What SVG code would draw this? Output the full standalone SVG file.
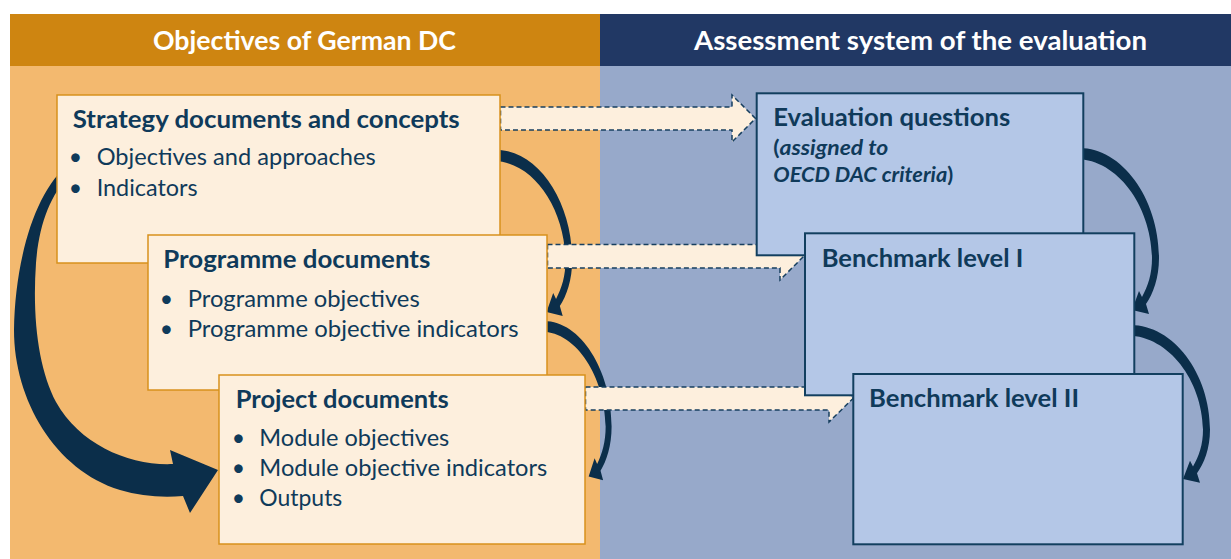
<svg xmlns="http://www.w3.org/2000/svg" width="1231" height="559" viewBox="0 0 1231 559">
<style>
.hdr{font-family:Lato,"Open Sans",sans-serif;font-weight:700;font-size:26px;fill:#ffffff}
.ttl{font-family:Lato,"Open Sans",sans-serif;font-weight:700;font-size:25px;fill:#0F3A5A}
.bul{font-family:Lato,"Open Sans",sans-serif;font-weight:400;font-size:23px;fill:#0F3A5A}
.sub{font-family:Lato,"Open Sans",sans-serif;font-weight:700;font-size:20px;fill:#0F3A5A}
.it{font-style:italic}
.obox{fill:#FDEFDD;stroke:#D8911C;stroke-width:1.5}
.bbox{fill:#B4C7E7;stroke:#123F5F;stroke-width:2}
.dash{fill:#FDEFDD;stroke:#173F5F;stroke-width:1.5;stroke-dasharray:5 3}
.curve{fill:#0B2E4A}
</style>
<defs>
<path id="carrow" d="M -6,0 C 38,-2 76,50 76,110 C 76,130 70,146 63,156 L 66,166 L 49,162 L 56,143 L 59,149 C 65,138 69,126 69,110 C 68,58 35,12 -6,11 Z"/>
</defs>

<g id="background">
<rect x="10" y="14" width="590" height="545" fill="#F3B96F"/>
<rect x="600" y="14" width="631" height="545" fill="#97A9CA"/>
<rect x="10" y="14" width="590" height="52" fill="#CE8511"/>
<rect x="600" y="14" width="631" height="52" fill="#213864"/>
<text class="hdr" x="153" y="50" textLength="303" lengthAdjust="spacingAndGlyphs">Objectives of German DC</text>
<text class="hdr" x="694" y="50" textLength="453" lengthAdjust="spacingAndGlyphs">Assessment system of the evaluation</text>
</g>

<g id="connectors">
<path class="curve" d="M 70,163 C 35,190 15,260 14,330 C 14,400 55,470 120,490 C 140,496 162,498 183,496 L 190,513 L 218,470 L 170,450 L 173,464 C 130,466 80,445 56,402 C 39,370 32,320 36,263 C 39,225 50,195 70,175 Z"/>
<use href="#carrow" class="curve" transform="translate(500,150) scale(0.95,1)"/>
<use href="#carrow" class="curve" transform="translate(547,321) scale(0.85,0.96)"/>
<use href="#carrow" class="curve" transform="translate(1083,148)"/>
<use href="#carrow" class="curve" transform="translate(1134,325) scale(1,0.95)"/>
<path class="dash" d="M 500.5,107 L 732,107 L 732,95 L 755.5,118.5 L 732,142 L 732,130 L 500.5,130 Z"/>
<path class="dash" d="M 547.5,244.5 L 780,244.5 L 780,232 L 804,256 L 780,280 L 780,268 L 547.5,268 Z"/>
<path class="dash" d="M 585.5,387 L 829,387 L 829,375 L 853,398.5 L 829,422 L 829,410 L 585.5,410 Z"/>
</g>

<g id="strategy">
<rect class="obox" x="57" y="95" width="443" height="168"/>
<text class="ttl" x="72.7" y="128.3" textLength="387" lengthAdjust="spacingAndGlyphs">Strategy documents and concepts</text>
<text class="bul" x="75.5" y="165" text-anchor="middle">•</text>
<text class="bul" x="96.7" y="165" textLength="279" lengthAdjust="spacingAndGlyphs">Objectives and approaches</text>
<text class="bul" x="75.5" y="196" text-anchor="middle">•</text>
<text class="bul" x="96.7" y="196" textLength="101" lengthAdjust="spacingAndGlyphs">Indicators</text>
</g>

<g id="programme">
<rect class="obox" x="148" y="235" width="399" height="155"/>
<text class="ttl" x="163.3" y="268.3" textLength="267" lengthAdjust="spacingAndGlyphs">Programme documents</text>
<text class="bul" x="166.5" y="306.7" text-anchor="middle">•</text>
<text class="bul" x="187.7" y="306.7" textLength="232" lengthAdjust="spacingAndGlyphs">Programme objectives</text>
<text class="bul" x="166.5" y="336.7" text-anchor="middle">•</text>
<text class="bul" x="187.7" y="336.7" textLength="331" lengthAdjust="spacingAndGlyphs">Programme objective indicators</text>
</g>

<g id="project">
<rect class="obox" x="219" y="375" width="366" height="169"/>
<text class="ttl" x="235.7" y="407.7" textLength="213" lengthAdjust="spacingAndGlyphs">Project documents</text>
<text class="bul" x="238.5" y="445.7" text-anchor="middle">•</text>
<text class="bul" x="259.3" y="445.7" textLength="190" lengthAdjust="spacingAndGlyphs">Module objectives</text>
<text class="bul" x="238.5" y="475.7" text-anchor="middle">•</text>
<text class="bul" x="259.3" y="475.7" textLength="288" lengthAdjust="spacingAndGlyphs">Module objective indicators</text>
<text class="bul" x="238.5" y="505.7" text-anchor="middle">•</text>
<text class="bul" x="259.3" y="505.7" textLength="83" lengthAdjust="spacingAndGlyphs">Outputs</text>
</g>

<g id="evaluation-questions">
<rect class="bbox" x="756.7" y="93.3" width="326.6" height="162"/>
<text class="ttl" x="773.3" y="126" textLength="237" lengthAdjust="spacingAndGlyphs">Evaluation questions</text>
<text class="sub" x="773.3" y="155" textLength="115" lengthAdjust="spacingAndGlyphs">(<tspan class="it">assigned to</tspan></text>
<text class="sub" x="773.3" y="182" textLength="180" lengthAdjust="spacingAndGlyphs"><tspan class="it">OECD DAC criteria</tspan>)</text>
</g>

<g id="benchmark-1">
<rect class="bbox" x="805" y="233.3" width="329.3" height="162"/>
<text class="ttl" x="821.7" y="266.7" textLength="201.6" lengthAdjust="spacingAndGlyphs">Benchmark level I</text>
</g>

<g id="benchmark-2">
<rect class="bbox" x="853.3" y="374" width="329.4" height="170.3"/>
<text class="ttl" x="869" y="407.3" textLength="210" lengthAdjust="spacingAndGlyphs">Benchmark level II</text>
</g>
</svg>
